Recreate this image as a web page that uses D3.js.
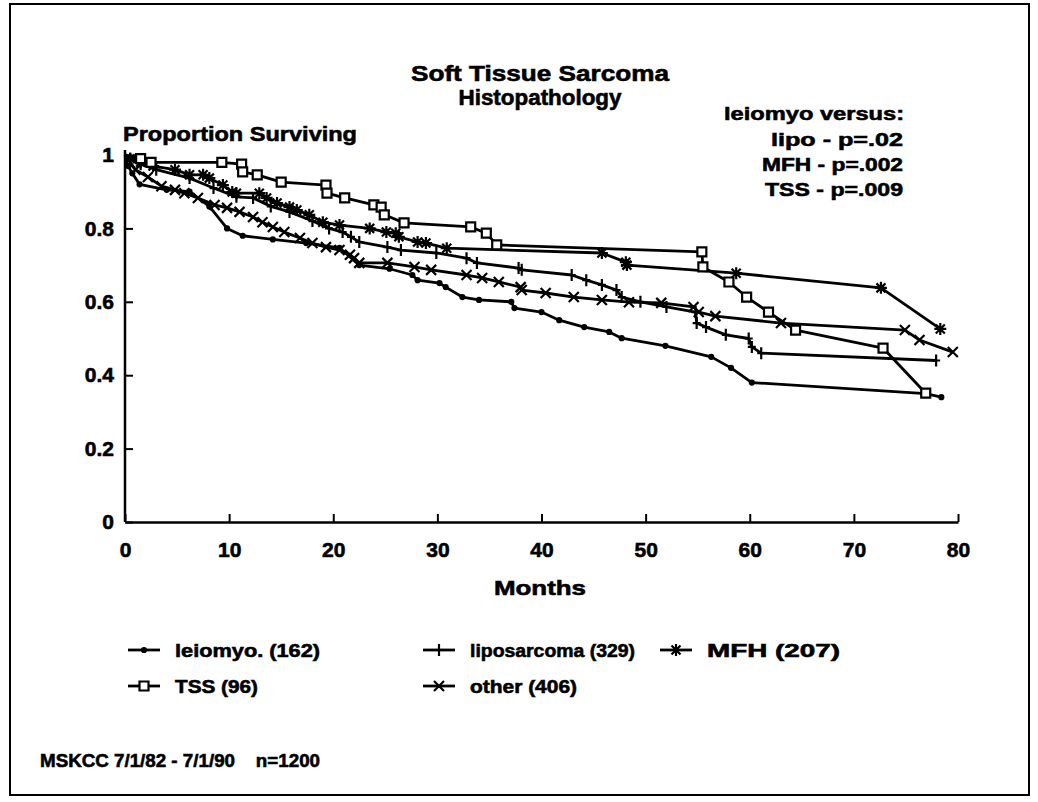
<!DOCTYPE html>
<html>
<head>
<meta charset="utf-8">
<script src="https://cdn.jsdelivr.net/npm/d3@7"></script>
<style>
  body { margin: 0; background: #fff; }
  svg text { font-family: "Liberation Sans", Arial, sans-serif; font-weight: bold; fill: #000; stroke: #000; stroke-width: 0.6px; }
</style>
</head>
<body>
<svg id="chart" width="1038" height="802"></svg>
<script>
// survival curves, [month, proportion surviving]
const leiomyoData = [[0,1.0],[0.3,0.97],[0.7,0.95],[1.4,0.92],[4.0,0.905],[6.2,0.90],[8.1,0.86],[9.8,0.80],[11.3,0.78],[14.2,0.77],[17.4,0.76],[20.6,0.747],[22.5,0.70],[25.4,0.69],[27.6,0.673],[28.1,0.659],[30.2,0.651],[30.8,0.640],[32.4,0.613],[34.0,0.605],[37.1,0.600],[37.4,0.583],[40.0,0.572],[41.7,0.550],[44.1,0.531],[46.5,0.518],[47.7,0.501],[51.9,0.48],[56.3,0.45],[58.2,0.42],[60.2,0.38],[76.9,0.35],[78.4,0.34]];

const lipoData = [[0,1.0],[0.5,0.99],[1.5,0.975],[3.0,0.96],[6.2,0.937],[8.5,0.91],[10.7,0.886],[12.3,0.883],[14.0,0.86],[15.8,0.845],[18.0,0.82],[19.6,0.80],[20.9,0.79],[21.7,0.777],[22.5,0.763],[25.2,0.749],[26.5,0.741],[29.9,0.733],[32.8,0.719],[33.8,0.706],[37.8,0.692],[38.1,0.687],[42.9,0.673],[44.3,0.659],[45.8,0.646],[47.2,0.632],[47.7,0.613],[49.5,0.60],[52.0,0.586],[54.8,0.572],[54.9,0.542],[55.8,0.531],[57.7,0.51],[59.9,0.50],[60.2,0.477],[61.1,0.46],[77.9,0.44]];

const mfhData = [[0,1.0],[0.5,0.99],[1.5,0.98],[2.7,0.97],[4.8,0.96],[6.2,0.946],[7.5,0.946],[8.1,0.937],[9.4,0.918],[10.3,0.899],[10.7,0.896],[12.9,0.896],[13.6,0.883],[14.6,0.869],[15.8,0.858],[16.5,0.85],[17.7,0.837],[19.0,0.817],[20.6,0.809],[23.5,0.80],[25.1,0.79],[26.0,0.787],[26.3,0.777],[28.1,0.763],[28.9,0.76],[30.9,0.746],[45.8,0.733],[48.1,0.708],[48.2,0.70],[58.7,0.678],[72.6,0.638],[78.3,0.526]];

const tssData = [[0,1.0],[1.5,0.99],[2.5,0.98],[9.3,0.98],[11.2,0.975],[11.3,0.954],[12.7,0.946],[15.0,0.926],[19.3,0.918],[19.4,0.896],[21.1,0.883],[23.9,0.864],[24.6,0.858],[24.9,0.837],[26.8,0.815],[33.2,0.804],[34.7,0.787],[35.7,0.755],[55.4,0.736],[55.5,0.695],[58.0,0.654],[59.7,0.613],[61.8,0.572],[64.4,0.523],[72.8,0.474],[76.9,0.351]];

const otherData = [[0,1.0],[1.0,0.96],[2.2,0.94],[3.5,0.915],[4.8,0.905],[5.7,0.896],[7.0,0.883],[8.6,0.864],[9.8,0.856],[11.0,0.845],[12.3,0.831],[13.2,0.817],[14.2,0.804],[15.3,0.79],[16.8,0.774],[18.0,0.76],[19.3,0.749],[20.6,0.741],[21.6,0.728],[22.0,0.719],[22.5,0.706],[25.2,0.706],[27.8,0.695],[29.4,0.687],[32.8,0.673],[34.3,0.665],[35.9,0.654],[38.0,0.64],[38.1,0.632],[40.4,0.624],[43.1,0.613],[45.8,0.605],[48.4,0.599],[51.5,0.597],[54.6,0.586],[55.1,0.572],[56.7,0.561],[63.0,0.542],[74.9,0.523],[76.3,0.496],[79.5,0.463]];

const seriesNames = ["leiomyo. (162)", "liposarcoma (329)", "MFH (207)", "TSS (96)", "other (406)"];
const xTicks = [0, 10, 20, 30, 40, 50, 60, 70, 80];
const yTicks = [0, 0.2, 0.4, 0.6, 0.8, 1];
const pValueLines = ["lipo - p=.02", "MFH - p=.002", "TSS - p=.009"];

const svg = d3.select("#chart");

// page frame
svg.append("rect")
    .attr("x", 10).attr("y", 4)
    .attr("width", 1019).attr("height", 791)
    .attr("fill", "none").attr("stroke", "#000").attr("stroke-width", 2);

// scales
const x = d3.scaleLinear().domain([0, 80]).range([125, 958]);
const y = d3.scaleLinear().domain([0, 1]).range([522, 155]);

// axes with inward ticks
const xAxis = svg.append("g")
    .attr("transform", `translate(0,${y(0)})`)
    .call(d3.axisBottom(x).tickValues(xTicks).tickSize(-8).tickPadding(20).tickSizeOuter(0).tickFormat(d => String(d)));

const yAxis = svg.append("g")
    .attr("transform", `translate(${x(0)},0)`)
    .call(d3.axisLeft(y).tickValues(yTicks).tickSize(-8).tickPadding(11).tickSizeOuter(0).tickFormat(d => String(d)));

[xAxis, yAxis].forEach(a => {
    a.select(".domain").attr("stroke", "#000").attr("stroke-width", 2.5);
    a.selectAll(".tick line").attr("stroke", "#000").attr("stroke-width", 2);
    a.selectAll(".tick text").style("font-size", "21px");
});
// y axis runs a bit above 1
yAxis.select(".domain").attr("d", `M0,${y(0)}V150`);

// markers
const markers = {
    dot:    { d: "M-2,0a2,2 0 1,0 4,0a2,2 0 1,0 -4,0", fill: "#000" },
    plus:   { d: "M0,-6V6M-4,0H4", fill: "none" },
    star:   { d: "M-6,0H6M0,-6V6M-4.5,-4.5L4.5,4.5M-4.5,4.5L4.5,-4.5", fill: "none" },
    square: { d: "M-4.5,-4.5H4.5V4.5H-4.5Z", fill: "#fff" },
    cross:  { d: "M-5,-5L5,5M-5,5L5,-5", fill: "none" }
};

const series = [
    { name: seriesNames[0], data: leiomyoData, marker: "dot" },
    { name: seriesNames[1], data: lipoData, marker: "plus" },
    { name: seriesNames[2], data: mfhData, marker: "star" },
    { name: seriesNames[3], data: tssData, marker: "square" },
    { name: seriesNames[4], data: otherData, marker: "cross" }
];

const line = d3.line().x(d => x(d[0])).y(d => y(d[1]));

series.forEach(s => {
    svg.append("path")
        .datum(s.data)
        .attr("d", line)
        .attr("fill", "none")
        .attr("stroke", "#000")
        .attr("stroke-width", 2.8)
        .attr("stroke-linejoin", "round");
});

series.forEach(s => {
    const m = markers[s.marker];
    svg.append("g").selectAll("path")
        .data(s.data.slice(1))
        .enter().append("path")
        .attr("transform", d => `translate(${x(d[0])},${y(d[1])})`)
        .attr("d", m.d)
        .attr("fill", m.fill)
        .attr("stroke", "#000")
        .attr("stroke-width", 2.2);
});

// titles
svg.append("text").attr("x", 540).attr("y", 81).attr("text-anchor", "middle")
    .style("font-size", "22px").attr("textLength", 258).attr("lengthAdjust", "spacingAndGlyphs")
    .text("Soft Tissue Sarcoma");
svg.append("text").attr("x", 540).attr("y", 105).attr("text-anchor", "middle")
    .style("font-size", "22px").attr("textLength", 163).attr("lengthAdjust", "spacingAndGlyphs")
    .text("Histopathology");

svg.append("text").attr("x", 123).attr("y", 141)
    .style("font-size", "21px").attr("textLength", 234).attr("lengthAdjust", "spacingAndGlyphs")
    .text("Proportion Surviving");

svg.append("text").attr("x", 540).attr("y", 595).attr("text-anchor", "middle")
    .style("font-size", "21px").attr("textLength", 92).attr("lengthAdjust", "spacingAndGlyphs")
    .text("Months");

// p-value note
svg.append("text").attr("x", 724).attr("y", 120)
    .style("font-size", "19px").attr("textLength", 180).attr("lengthAdjust", "spacingAndGlyphs")
    .text("leiomyo versus:");
const pWidths = [132, 141, 138];
pValueLines.forEach((t, i) => {
    svg.append("text").attr("x", 903).attr("y", 146 + i * 25).attr("text-anchor", "end")
        .style("font-size", "19px").attr("textLength", pWidths[i]).attr("lengthAdjust", "spacingAndGlyphs")
        .text(t);
});

// legend
const legendPos = [[128, 650], [423, 650], [660, 650], [128, 686], [423, 686]];
const legendWidths = [145, 165, 133, 83, 107];
series.forEach((s, i) => {
    const [lx, ly] = legendPos[i];
    const g = svg.append("g").attr("transform", `translate(${lx},${ly})`);
    g.append("line").attr("x1", 0).attr("x2", 32).attr("y1", 0).attr("y2", 0)
        .attr("stroke", "#000").attr("stroke-width", 2.8);
    g.append("path").attr("transform", "translate(16,0)")
        .attr("d", markers[s.marker].d).attr("fill", markers[s.marker].fill)
        .attr("stroke", "#000").attr("stroke-width", 2.2);
    g.append("text").attr("x", 47).attr("y", 7)
        .style("font-size", "19px").attr("textLength", legendWidths[i]).attr("lengthAdjust", "spacingAndGlyphs")
        .text(s.name);
});

// footer
svg.append("text").attr("x", 40).attr("y", 767)
    .style("font-size", "19px").attr("textLength", 280).attr("lengthAdjust", "spacingAndGlyphs")
    .attr("xml:space", "preserve")
    .text("MSKCC 7/1/82 - 7/1/90    n=1200");
</script>
</body>
</html>
